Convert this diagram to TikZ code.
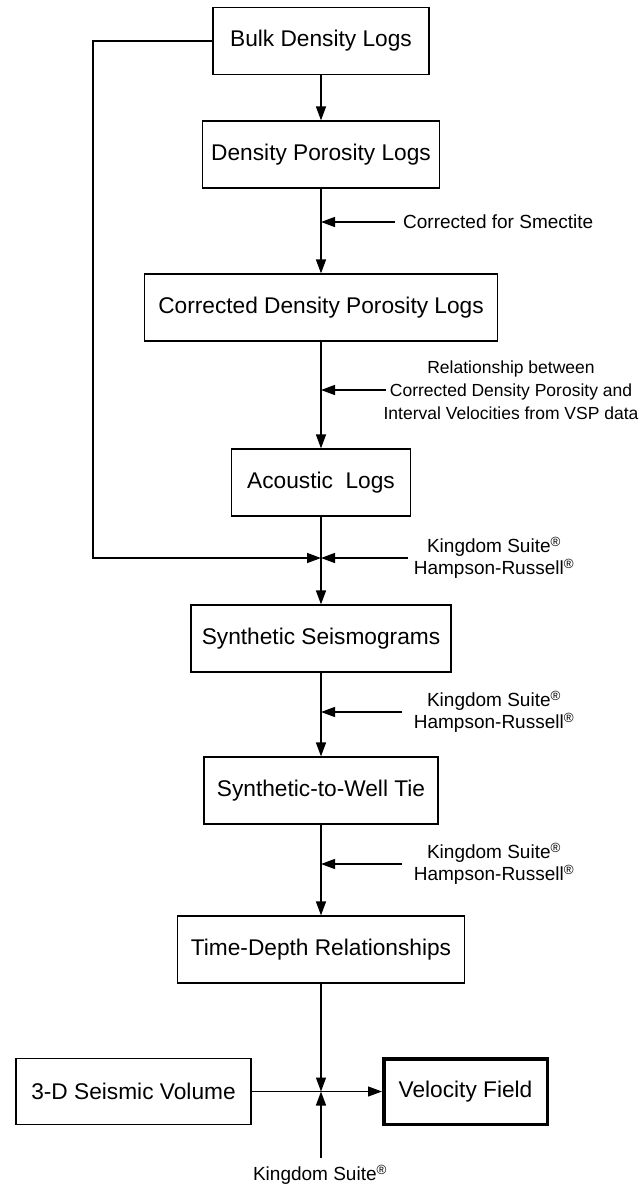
\documentclass[tikz,border=0pt]{standalone}
\usepackage{fontspec}
\setmainfont{Liberation Sans}
\usetikzlibrary{arrows.meta}
\newcommand{\boxfont}{\fontsize{22.7}{27}\selectfont}
\newcommand{\lblfont}{\fontsize{19}{22}\selectfont}
\newcommand{\reg}{\textsuperscript{\textregistered}}
\begin{document}
\begin{tikzpicture}[x=1pt,y=-1pt,
  stepbox/.style={draw, line width=1.2pt, minimum height=67pt, inner sep=0pt, font=\boxfont},
  lbl/.style={inner sep=0pt, font=\lblfont, align=center},
  conn/.style={line width=1.4pt},
  arr/.style={conn, -{Triangle[length=14pt,width=10pt]}}]
\useasboundingbox (0,0) rectangle (641,1186);
% boxes
\node[stepbox, minimum width=216pt] (bulk) at (321,41) {Bulk Density Logs};
\node[stepbox, minimum width=237pt] (dpl) at (321,154.5) {Density Porosity Logs};
\node[stepbox, minimum width=353pt] (cdpl) at (321,307.5) {Corrected Density Porosity Logs};
\node[stepbox, minimum width=179pt] (acl) at (321,482.5) {Acoustic~~Logs};
\node[stepbox, minimum width=260pt] (syn) at (321,638.5) {Synthetic Seismograms};
\node[stepbox, minimum width=234pt] (tie) at (321,790.5) {Synthetic-to-Well Tie};
\node[stepbox, minimum width=287pt] (td) at (321,949.5) {Time-Depth Relationships};
\node[stepbox, minimum width=235pt, minimum height=66pt] (seis) at (133.5,1091.5) {3-D Seismic Volume};
\node[stepbox, line width=3.5pt, minimum width=163.5pt, minimum height=65.5pt] (vel) at (465.5,1091.5) {Velocity Field};
% labels
\node[lbl, anchor=west] (smect) at (403,222) {Corrected for Smectite};
\node[lbl, font=\fontsize{17.5}{23}\selectfont] (rel) at (511,390) {Relationship between\\Corrected Density Porosity and\\Interval Velocities from VSP data};
\node[lbl] (k1) at (494,558) {Kingdom Suite\reg\\Hampson-Russell\reg};
\node[lbl] (k2) at (494,712) {Kingdom Suite\reg\\Hampson-Russell\reg};
\node[lbl] (k3) at (494,864) {Kingdom Suite\reg\\Hampson-Russell\reg};
\node[lbl] (k4) at (320,1175) {Kingdom Suite\reg};
% coordinates
\coordinate (a1) at (321,222);
\coordinate (a1s) at (395,222);
\coordinate (a2) at (321,390);
\coordinate (a2s) at (386,390);
\coordinate (j1) at (321,558);
\coordinate (j1s) at (408,558);
\coordinate (fbk) at (93,558);
\coordinate (a3) at (321,712);
\coordinate (a3s) at (402,712);
\coordinate (a4) at (321,864);
\coordinate (a4s) at (402,864);
\coordinate (j2) at (321,1091.5);
\coordinate (kb) at (321,1158);
% connectors
\draw[arr] (bulk) -- (dpl);
\draw[arr] (dpl) -- (cdpl);
\draw[arr] (cdpl) -- (acl);
\draw[arr] (acl) -- (syn);
\draw[arr] (syn) -- (tie);
\draw[arr] (tie) -- (td);
\draw[arr] (td) -- (j2);
\draw[arr] (kb) -- (j2);
\draw[arr, line width=1.1pt] (seis) -- (vel);
\draw[arr] (bulk.west) -| (fbk) -- (j1);
\draw[arr] (j1s) -- (j1);
\draw[arr] (a1s) -- (a1);
\draw[arr] (a2s) -- (a2);
\draw[arr] (a3s) -- (a3);
\draw[arr] (a4s) -- (a4);
\end{tikzpicture}
\end{document}
